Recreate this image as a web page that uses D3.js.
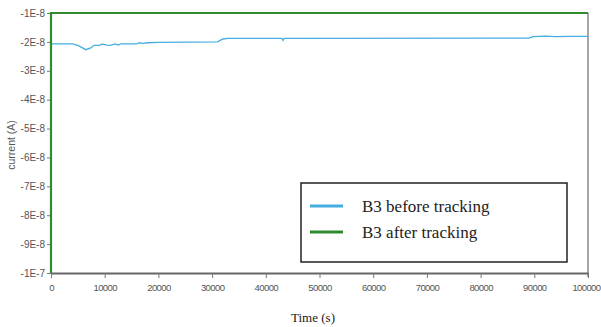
<!DOCTYPE html>
<html><head><meta charset="utf-8">
<script src="https://cdn.jsdelivr.net/npm/d3@7"></script>
<style>body{margin:0;background:#fff}svg{display:block}</style>
</head><body>
<svg id="c" width="601" height="327"></svg>
<script>
const xTicks = [0,10000,20000,30000,40000,50000,60000,70000,80000,90000,100000];
const yTicks = [-1e-8,-2e-8,-3e-8,-4e-8,-5e-8,-6e-8,-7e-8,-8e-8,-9e-8,-1e-7];
const yTickLabels = ["-1E-8","-2E-8","-3E-8","-4E-8","-5E-8","-6E-8","-7E-8","-8E-8","-9E-8","-1E-7"];
const beforeTime = [0,4000,5000,6500,7500,8000,9000,9500,10500,11000,12000,12500,13000,16000,16500,17000,18000,20000,31000,32000,33000,43000,43200,43400,89000,89800,92000,94000,96600,100000];
const beforeVals = [-2.07e-8,-2.07e-8,-2.12e-8,-2.27e-8,-2.2e-8,-2.12e-8,-2.12e-8,-2.08e-8,-2.11e-8,-2.12e-8,-2.07e-8,-2.11e-8,-2.07e-8,-2.07e-8,-2.03e-8,-2.05e-8,-2.03e-8,-2.02e-8,-2.0e-8,-1.9e-8,-1.88e-8,-1.88e-8,-1.95e-8,-1.88e-8,-1.87e-8,-1.82e-8,-1.80e-8,-1.82e-8,-1.81e-8,-1.81e-8];
const afterTime = [0,0,100000];
const afterVals = [-1e-7,-1e-8,-1e-8];
const legendLabels = ["B3 before tracking","B3 after tracking"];
const colors = ["#45ade0","#2e8b2e"];

const svg = d3.select("#c");
const m = {l:51, r:588, t:13, b:273};
const x = d3.scaleLinear().domain([0,100000]).range([m.l,m.r]);
const y = d3.scaleLinear().domain([-1e-7,-1e-8]).range([m.b,m.t]);

// right frame
svg.append("line").attr("x1",m.r).attr("x2",m.r).attr("y1",m.t).attr("y2",m.b+4)
  .attr("stroke","#888").attr("stroke-width",1.5);

// y axis
const ya = svg.append("g").attr("transform",`translate(${m.l},0)`)
  .call(d3.axisLeft(y).tickValues(yTicks).tickFormat((d,i)=>yTickLabels[i]).tickSize(4).tickSizeOuter(0));
ya.select(".domain").attr("stroke","#777");
ya.selectAll(".tick line").attr("stroke","#777");
ya.selectAll("text").attr("font-family","Liberation Sans, Arial").attr("font-size",10).attr("fill","#555").attr("dx",1);

// x axis
const xa = svg.append("g").attr("transform",`translate(0,${m.b})`)
  .call(d3.axisBottom(x).tickValues(xTicks).tickFormat(d3.format("d")).tickSize(5).tickSizeOuter(0));
xa.select(".domain").attr("stroke","#666").attr("stroke-width",2);
xa.selectAll(".tick line").attr("stroke","#777");
xa.selectAll("text").attr("font-family","Liberation Sans, Arial").attr("font-size",9.5).attr("fill","#555")
  .attr("letter-spacing","-0.6").attr("dy","1.1em");
xa.selectAll(".tick").filter(d=>d===100000).select("text").attr("text-anchor","end").attr("x",12);

// series
const line = d3.line().x(d=>x(d[0])).y(d=>y(d[1]));
svg.append("path").datum(beforeTime.map((t,i)=>[t,beforeVals[i]]))
  .attr("d",line).attr("fill","none").attr("stroke",colors[0]).attr("stroke-width",1.3);
svg.append("path").datum(afterTime.map((t,i)=>[t,afterVals[i]]))
  .attr("d",line).attr("fill","none").attr("stroke",colors[1]).attr("stroke-width",2.2);

// axis titles
svg.append("text").attr("x",313).attr("y",322).attr("text-anchor","middle")
  .attr("font-family","Liberation Serif, Times New Roman").attr("font-size",13).attr("fill","#222").text("Time (s)");
svg.append("text").attr("transform","translate(15,145) rotate(-90)").attr("text-anchor","middle")
  .attr("font-family","Liberation Sans, Arial").attr("font-size",10.5).attr("fill","#555").text("current (A)");

// legend
const lg = svg.append("g");
lg.append("rect").attr("x",301).attr("y",183).attr("width",266).attr("height",79)
  .attr("fill","#fff").attr("stroke","#222").attr("stroke-width",1.5);
legendLabels.forEach((s,i)=>{
  const yy = 206 + i*26;
  lg.append("line").attr("x1",310).attr("x2",343).attr("y1",yy).attr("y2",yy)
    .attr("stroke",colors[i]).attr("stroke-width",3);
  lg.append("text").attr("x",362).attr("y",yy+6).attr("font-family","Liberation Serif, Times New Roman")
    .attr("font-size",17).attr("fill","#222").text(s);
});
</script>
</body></html>
